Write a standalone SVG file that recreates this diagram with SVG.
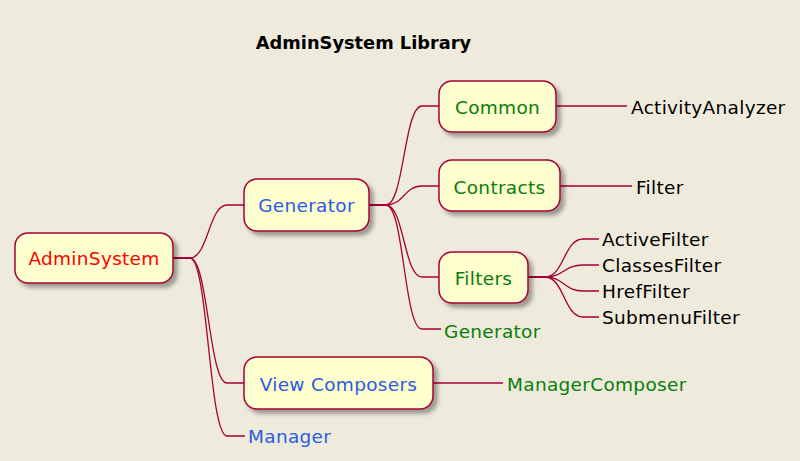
<svg xmlns="http://www.w3.org/2000/svg" width="800" height="461" viewBox="0 0 800 461">
<defs>
<filter id="sh" x="-20%" y="-30%" width="150%" height="180%">
<feGaussianBlur in="SourceAlpha" stdDeviation="2"/>
<feOffset dx="4" dy="4" result="b"/>
<feFlood flood-color="#000" flood-opacity="0.35"/>
<feComposite in2="b" operator="in"/>
<feMerge><feMergeNode/><feMergeNode in="SourceGraphic"/></feMerge>
</filter>
<style>
text{font-family:"DejaVu Sans","Noto Sans",sans-serif;font-size:18.5px;letter-spacing:0.3px}
.box{fill:#FEFECE;stroke:#A80036;stroke-width:1.5;filter:url(#sh)}
.c{fill:none;stroke:#A80036;stroke-width:1.3}
.t{text-anchor:middle}
.red{fill:#FF0000}.blue{fill:#2D5BE3}.green{fill:#0A7D0A}.black{fill:#000}
.title{font-weight:bold;font-size:17.8px;text-anchor:middle;letter-spacing:0}
</style>
</defs>
<rect width="800" height="461" fill="#EEEBDC"/>
<text class="title black" x="363.5" y="49">AdminSystem Library</text>
<g id="connectors">
<path class="c" d="M173,258 H190 C208,258 209,205 227,205 H244"/>
<path class="c" d="M173,258 H190 C208,258 209,383 227,383 H244"/>
<path class="c" d="M173,258 H190 C208,258 209,436 227,436 H245"/>
<path class="c" d="M369,205 H386 C404,205 404,106 422,106 H439"/>
<path class="c" d="M369,205 H386 C404,205 404,186 422,186 H439"/>
<path class="c" d="M369,205 H386 C404,205 404,277 422,277 H439"/>
<path class="c" d="M369,205 H386 C404,205 404,329 422,329 H441"/>
<path class="c" d="M556,106 H627"/>
<path class="c" d="M560,186 H632"/>
<path class="c" d="M528,277 H545 C564,277 564,239 583,239 H599"/>
<path class="c" d="M528,277 H545 C564,277 564,265 583,265 H599"/>
<path class="c" d="M528,277 H545 C564,277 564,291 583,291 H599"/>
<path class="c" d="M528,277 H545 C564,277 564,317 583,317 H599"/>
<path class="c" d="M433,383 H503"/>
</g>
<g id="AdminSystem"><rect class="box" x="15" y="233" width="158" height="50" rx="13"/><text class="t red" x="94" y="265">AdminSystem</text></g>
<g id="Generator"><rect class="box" x="244" y="179" width="125" height="52" rx="13"/><text class="t blue" x="306.5" y="212">Generator</text></g>
<g id="Common"><rect class="box" x="439" y="81" width="117" height="51" rx="13"/><text class="t green" x="497.5" y="114">Common</text></g>
<g id="ActivityAnalyzer"><text class="black" x="631" y="114">ActivityAnalyzer</text></g>
<g id="Contracts"><rect class="box" x="439" y="160" width="121" height="51" rx="13"/><text class="t green" x="499.5" y="194">Contracts</text></g>
<g id="Filter"><text class="black" x="636" y="194">Filter</text></g>
<g id="Filters"><rect class="box" x="439" y="252" width="89" height="51" rx="13"/><text class="t green" x="483.5" y="285">Filters</text></g>
<g id="ActiveFilter"><text class="black" x="602" y="246">ActiveFilter</text></g>
<g id="ClassesFilter"><text class="black" x="602" y="272">ClassesFilter</text></g>
<g id="HrefFilter"><text class="black" x="602" y="298">HrefFilter</text></g>
<g id="SubmenuFilter"><text class="black" x="602" y="324">SubmenuFilter</text></g>
<g id="GeneratorLeaf"><text class="green" x="444" y="338">Generator</text></g>
<g id="ViewComposers"><rect class="box" x="244" y="357" width="189" height="52" rx="13"/><text class="t blue" x="338.5" y="391">View Composers</text></g>
<g id="ManagerComposer"><text class="green" x="507" y="391">ManagerComposer</text></g>
<g id="Manager"><text class="blue" x="248" y="443">Manager</text></g>
</svg>
